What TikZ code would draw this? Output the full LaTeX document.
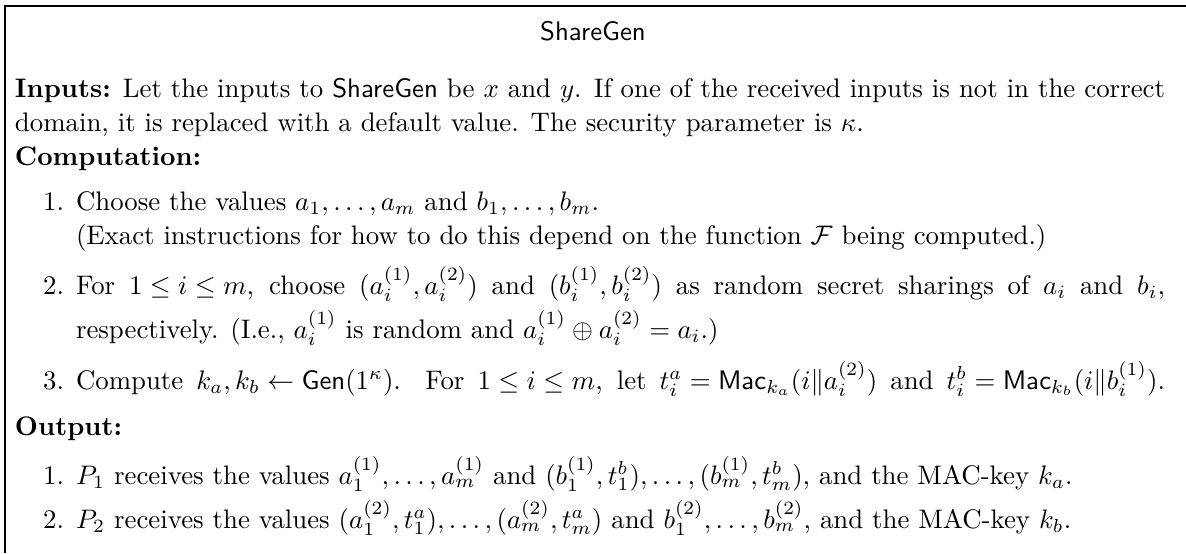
\documentclass[tikz,border=0pt]{standalone}
\usepackage{graphicx}
\thickmuskip=5mu\relax
\medmuskip=4mu\relax
\newlength\inw
\newlength\pxu
\newcommand\inputsline{\textbf{Inputs:} Let the inputs to \textsf{ShareGen} be $x$ and $y$. If one of the received inputs is not in the correct}
\settowidth\inw{\inputsline}
\setlength\pxu{\dimexpr\inw/1148\relax}
\newcommand\jline[2]{\setbox0\hbox{#2}\ifdim\wd0>#1\pxu\resizebox{#1\pxu}{\height}{\box0}\else\hbox to #1\pxu{#2}\fi}
\tikzset{
  ln/.style={anchor=base west, inner sep=0pt, outer sep=0pt},
  lbl/.style={anchor=base east, inner sep=0pt, outer sep=0pt},
  ttl/.style={anchor=base, inner sep=0pt, outer sep=0pt, font=\sffamily},
  frame/.style={line width=0.4pt}
}
\begin{document}
\begin{tikzpicture}[x=\pxu, y=-\pxu]
\useasboundingbox (0,0) rectangle (1186,553);
\draw[frame] (5,553) -- (5,6) -- (1186,6);
\node[ttl] (title) at (593,40) {ShareGen};
\node[ln] (in1) at (15,97) {\jline{1150}{\inputsline}};
\node[ln] (in2) at (15,131) {domain, it is replaced with a default value. The security parameter is $\kappa$.};
\node[ln] (comp) at (15,165) {\textbf{Computation:}};
\node[lbl] (n1) at (64,210) {1.};
\node[ln] (c1a) at (76,210) {Choose the values $a_1,\ldots,a_m$ and $b_1,\ldots,b_m$.};
\node[ln] (c1b) at (76,244) {(Exact instructions for how to do this depend on the function $\mathcal{F}$ being computed.)};
\node[lbl] (n2) at (64,294) {2.};
\node[ln] (c2a) at (76,294) {\jline{1089}{For $1\le i\le m$, choose $(a_i^{(1)},a_i^{(2)})$ and $(b_i^{(1)},b_i^{(2)})$ as random secret sharings of $a_i$ and $b_i$,}};
\node[ln] (c2b) at (76,338) {respectively. (I.e., $a_i^{(1)}$ is random and $a_i^{(1)}\oplus a_i^{(2)}=a_i$.)};
\node[lbl] (n3) at (64,389) {3.};
\node[ln] (c3) at (76,389) {\jline{1089}{Compute $k_a,k_b\leftarrow\mathsf{Gen}(1^\kappa)$. For $1\le i\le m$, let $t_i^a=\mathsf{Mac}_{k_a}(i\|a_i^{(2)})$ and $t_i^b=\mathsf{Mac}_{k_b}(i\|b_i^{(1)})$.}};
\node[ln] (outh) at (15,435) {\textbf{Output:}};
\node[lbl] (m1) at (64,484) {1.};
\node[ln] (o1) at (76,484) {$P_1$ receives the values $a_1^{(1)},\ldots,a_m^{(1)}$ and $(b_1^{(1)},t_1^b),\ldots,(b_m^{(1)},t_m^b)$, and the MAC-key $k_a$.};
\node[lbl] (m2) at (64,528) {2.};
\node[ln] (o2) at (76,528) {$P_2$ receives the values $(a_1^{(2)},t_1^a),\ldots,(a_m^{(2)},t_m^a)$ and $b_1^{(2)},\ldots,b_m^{(2)}$, and the MAC-key $k_b$.};
\end{tikzpicture}
\end{document}
